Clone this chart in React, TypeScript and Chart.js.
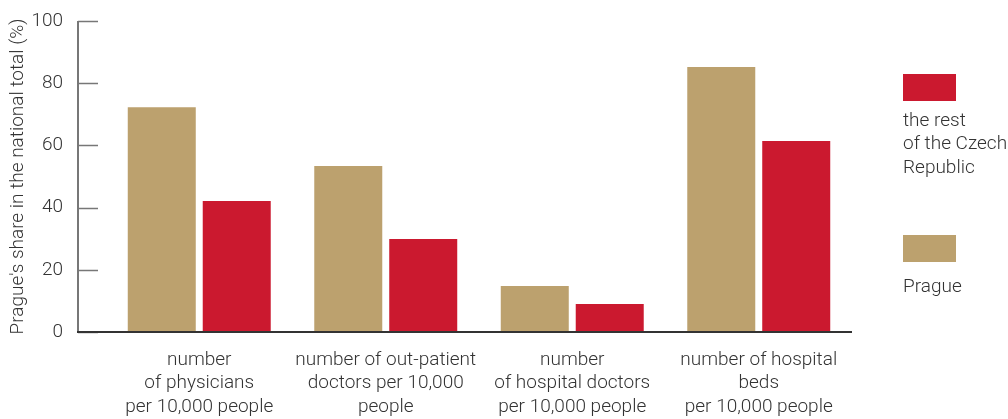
import React, { useEffect, useRef } from 'react';
import { Chart, registerables } from 'chart.js';

Chart.register(...registerables);

const categories: string[][] = [
  ['number', 'of physicians', 'per 10,000 people'],
  ['number of out-patient', 'doctors per 10,000', 'people'],
  ['number', 'of hospital doctors', 'per 10,000 people'],
  ['number of hospital', 'beds', 'per 10,000 people'],
];
const pragueValues = [72.3, 53.4, 14.8, 85.2];
const restValues = [42.1, 29.9, 9.0, 61.4];
const yTicks = [0, 20, 40, 60, 80, 100];
const yTitle = "Prague's share in the national total (%)";
const pragueLabel = ['Prague'];
const restLabel = ['the rest', 'of the Czech', 'Republic'];

const PRAGUE_COLOR = '#BCA16E';
const REST_COLOR = '#CB192F';
const TEXT_COLOR = '#333';
const FONT_FAMILY = 'Roboto, "Liberation Sans", Arial, sans-serif';
const FONT_SIZE = 19;

const decorPlugin = {
  id: 'decor',
  afterDraw(chart: any) {
    const { ctx, chartArea, scales } = chart;
    const y = scales.y;
    const axisX = chartArea.left - 28;
    ctx.save();
    // y ticks
    ctx.strokeStyle = '#777';
    ctx.lineWidth = 1.5;
    yTicks.forEach((v) => {
      const py = Math.round(y.getPixelForValue(v)) + 0.5;
      ctx.beginPath();
      ctx.moveTo(axisX, py);
      ctx.lineTo(axisX + 20, py);
      ctx.stroke();
    });
    // y axis line
    ctx.lineWidth = 2;
    ctx.beginPath();
    ctx.moveTo(axisX, y.getPixelForValue(yTicks[yTicks.length - 1]));
    ctx.lineTo(axisX, y.getPixelForValue(0));
    ctx.stroke();
    // x axis line
    ctx.strokeStyle = '#333';
    ctx.lineWidth = 2;
    const py0 = y.getPixelForValue(0);
    ctx.beginPath();
    ctx.moveTo(axisX - 1, py0);
    ctx.lineTo(chartArea.right, py0);
    ctx.stroke();

    // legend
    const items = [
      { color: chart.data.datasets[1].backgroundColor, lines: restLabel, top: 74, gap: 20 },
      { color: chart.data.datasets[0].backgroundColor, lines: pragueLabel, top: 235, gap: 25 },
    ];
    const lx = chartArea.right + 51;
    ctx.font = `300 ${FONT_SIZE}px ${FONT_FAMILY}`;
    ctx.fillStyle = TEXT_COLOR;
    ctx.textBaseline = 'middle';
    ctx.textAlign = 'left';
    items.forEach((it) => {
      ctx.fillStyle = it.color;
      ctx.fillRect(lx, it.top, 53, 27);
      ctx.fillStyle = TEXT_COLOR;
      it.lines.forEach((ln, i) => {
        ctx.fillText(ln, lx, it.top + 27 + it.gap + i * 23.5);
      });
    });
    ctx.restore();
  },
};

export default function App() {
  const ref = useRef<HTMLCanvasElement | null>(null);
  useEffect(() => {
    if (!ref.current) return;
    const chart = new Chart(ref.current, {
      type: 'bar',
      data: {
        labels: categories,
        datasets: [
          {
            label: pragueLabel.join(' '),
            data: pragueValues,
            backgroundColor: PRAGUE_COLOR,
            categoryPercentage: 0.804,
            barPercentage: 0.907,
          },
          {
            label: restLabel.join(' '),
            data: restValues,
            backgroundColor: REST_COLOR,
            categoryPercentage: 0.804,
            barPercentage: 0.907,
          },
        ],
      },
      options: {
        responsive: false,
        animation: false,
        maintainAspectRatio: false,
        layout: { padding: { top: 21, right: 156, left: 0, bottom: 0 } },
        plugins: { legend: { display: false }, tooltip: { enabled: false } },
        scales: {
          x: {
            grid: { display: false, drawTicks: false },
            border: { display: false },
            ticks: {
              color: TEXT_COLOR,
              font: { family: FONT_FAMILY, size: FONT_SIZE, weight: '300', lineHeight: 1.237 },
              padding: 16,
              maxRotation: 0,
              autoSkip: false,
            },
            afterFit(scale: any) {
              scale.height = 87;
            },
          },
          y: {
            min: 0,
            max: 100,
            afterBuildTicks(scale: any) {
              scale.ticks = yTicks.map((v) => ({ value: v }));
            },
            grid: { display: false, drawTicks: false },
            border: { display: false },
            ticks: {
              color: TEXT_COLOR,
              font: { family: FONT_FAMILY, size: FONT_SIZE, weight: '300' },
              padding: 43,
            },
            title: {
              display: true,
              text: yTitle,
              color: TEXT_COLOR,
              font: { family: FONT_FAMILY, size: FONT_SIZE, weight: '300' },
              padding: { top: 7, bottom: 0 },
            },
            afterFit(scale: any) {
              scale.width = 106;
              scale.paddingTop = 0;
              scale.paddingBottom = 0;
            },
          },
        },
      },
      plugins: [decorPlugin],
    });
    return () => chart.destroy();
  }, []);
  return (
    <div style={{ position: 'fixed', left: 0, top: 0, width: 1008, height: 419, background: '#fff' }}>
      <canvas ref={ref} width={1008} height={419} style={{ display: 'block' }} />
    </div>
  );
}
